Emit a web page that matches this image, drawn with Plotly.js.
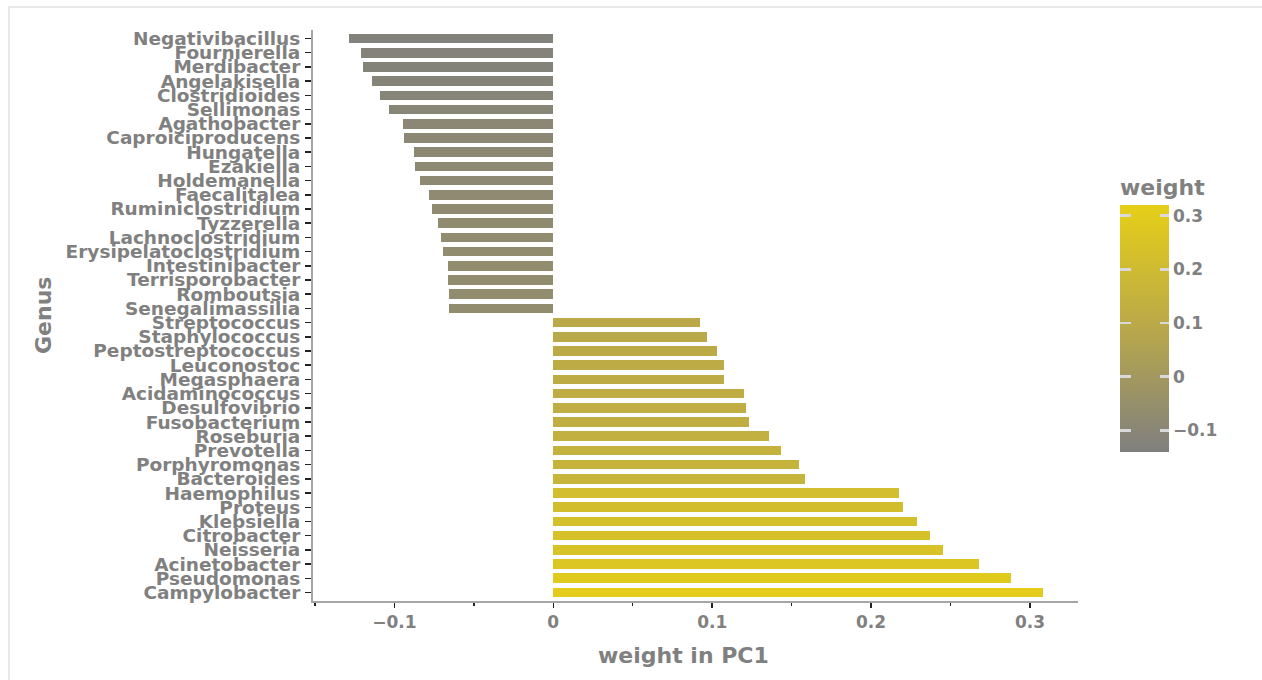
<!DOCTYPE html>
<html>
<head>
<meta charset="utf-8">
<script src="https://cdn.plot.ly/plotly-3.0.1.min.js"></script>
<style>
html, body { margin: 0; padding: 0; background: #ffffff; }
#frame { position: absolute; left: 8px; top: 6px; width: 1300px; height: 700px; border-top: 2px solid #e8e8e8; border-left: 2px solid #e8e8e8; pointer-events: none; }
#chart { position: absolute; left: 0; top: 0; width: 1262px; height: 680px; }
</style>
</head>
<body>
<div id="chart"></div>
<div id="frame"></div>
<script>
// Genus, listed from top of the chart to bottom
const genus = [
  "Negativibacillus", "Fournierella", "Merdibacter", "Angelakisella", "Clostridioides",
  "Sellimonas", "Agathobacter", "Caproiciproducens", "Hungatella", "Ezakiella",
  "Holdemanella", "Faecalitalea", "Ruminiclostridium", "Tyzzerella", "Lachnoclostridium",
  "Erysipelatoclostridium", "Intestinibacter", "Terrisporobacter", "Romboutsia", "Senegalimassilia",
  "Streptococcus", "Staphylococcus", "Peptostreptococcus", "Leuconostoc", "Megasphaera",
  "Acidaminococcus", "Desulfovibrio", "Fusobacterium", "Roseburia", "Prevotella",
  "Porphyromonas", "Bacteroides", "Haemophilus", "Proteus", "Klebsiella",
  "Citrobacter", "Neisseria", "Acinetobacter", "Pseudomonas", "Campylobacter"
];
// weight in PC1
const weight = [
  -0.1288, -0.1210, -0.1200, -0.1141, -0.1093,
  -0.1034, -0.0946, -0.0938, -0.0879, -0.0868,
  -0.0841, -0.0782, -0.0763, -0.0724, -0.0705,
  -0.0696, -0.0665, -0.0665, -0.0656, -0.0656,
  0.0923, 0.0969, 0.1028, 0.1076, 0.1076,
  0.1202, 0.1213, 0.1232, 0.1359, 0.1435,
  0.1549, 0.1587, 0.2178, 0.2199, 0.2288,
  0.2373, 0.2451, 0.2677, 0.2878, 0.3082
];
const xTickVals = [-0.1, 0, 0.1, 0.2, 0.3];
const xTickText = ["\u22120.1", "0", "0.1", "0.2", "0.3"];
const cbTickVals = [-0.1, 0, 0.1, 0.2, 0.3];
const cbTickText = ["\u22120.1", "0", "0.1", "0.2", "0.3"];

const gray = "#808080";
const fam = "DejaVu Sans, Verdana, sans-serif";

// plot area geometry (pixels)
const L = 313, R = 184, T = 30, B = 79;
const W = 1262, H = 680;
const pw = W - L - R, ph = H - T - B;
const px2x = p => (p - L) / pw;
const py2y = p => (H - B - p) / ph;

const cbLeft = 1120, cbRight = 1169, cbTop = 205, cbBottom = 452;
const cbTitleSpace = 30;
const cmin = -0.1405, cmax = 0.3197;
const scale = [[0, "#7f7f7f"], [0.5, "#b9a84a"], [1, "#e6cf17"]];

const trace = {
  type: "bar",
  orientation: "h",
  x: weight,
  y: genus,
  width: 0.68,
  marker: {
    color: weight,
    cmin: cmin,
    cmax: cmax,
    colorscale: scale,
    line: {width: 0},
    showscale: true,
    colorbar: {
      x: px2x(cbLeft), xanchor: "left", xpad: 0,
      y: py2y(cbTop - cbTitleSpace), yanchor: "top", ypad: 0,
      thickness: cbRight - cbLeft, thicknessmode: "pixels",
      len: cbBottom - cbTop + cbTitleSpace, lenmode: "pixels",
      outlinewidth: 0,
      ticks: "inside", ticklen: 9, tickwidth: 2.5, tickcolor: "#d9d9d9",
      tickvals: cbTickVals, ticktext: cbTickText,
      tickfont: {family: fam, size: 17, color: gray, weight: 700},
      title: {text: "weight", side: "top", font: {family: fam, size: 22, color: gray, weight: 700}}
    }
  },
  hoverinfo: "x+y"
};

// invisible helper whose narrow colour bar supplies the left-side tick dashes
const helper = {
  type: "scatter",
  mode: "markers",
  x: weight,
  y: genus,
  hoverinfo: "skip",
  marker: {
    size: 1, opacity: 0,
    color: weight, cmin: cmin, cmax: cmax, colorscale: scale,
    showscale: true,
    colorbar: {
      x: px2x(cbLeft), xanchor: "left", xpad: 0,
      y: py2y(cbTop), yanchor: "top", ypad: 0,
      thickness: 11, thicknessmode: "pixels",
      len: cbBottom - cbTop, lenmode: "pixels",
      outlinewidth: 0,
      ticks: "inside", ticklen: 11, tickwidth: 2.5, tickcolor: "#d9d9d9",
      tickvals: cbTickVals, showticklabels: false,
      title: {text: ""}
    }
  }
};

const layout = {
  width: W, height: H,
  margin: {l: L, r: R, t: T, b: B, pad: 0},
  paper_bgcolor: "#ffffff",
  plot_bgcolor: "#ffffff",
  showlegend: false,
  bargap: 0,
  xaxis: {
    range: [-0.1512, 0.3302],
    tickvals: xTickVals, ticktext: xTickText,
    ticks: "outside", ticklen: 5, tickwidth: 1.5, tickcolor: "#222",
    minor: {dtick: 0.05, tick0: 0, ticks: "outside", ticklen: 3, tickwidth: 1.5, tickcolor: "#222"},
    showgrid: false, zeroline: false,
    showline: true, linecolor: "#a6a6a6", linewidth: 2,
    tickfont: {family: fam, size: 17, color: gray, weight: 700},
    fixedrange: true
  },
  yaxis: {
    type: "category",
    categoryorder: "array", categoryarray: genus,
    range: [39.6, -0.6],
    tickmode: "array", tickvals: genus, ticktext: genus,
    ticks: "outside", ticklen: 6, tickwidth: 1.5, tickcolor: "#222",
    ticklabelstandoff: 1,
    showgrid: false, zeroline: false,
    showline: true, linecolor: "#a6a6a6", linewidth: 2,
    tickfont: {family: fam, size: 18.5, color: gray, weight: 700},
    fixedrange: true
  },
  annotations: [
    {text: "weight in PC1", xref: "paper", yref: "paper",
     x: px2x(683), y: py2y(655), xanchor: "center", yanchor: "middle", showarrow: false,
     font: {family: fam, size: 22, color: gray, weight: 700}},
    {text: "Genus", xref: "paper", yref: "paper", textangle: -90,
     x: px2x(43), y: py2y(316), xanchor: "center", yanchor: "middle", showarrow: false,
     font: {family: fam, size: 22, color: gray, weight: 700}}
  ]
};

Plotly.newPlot("chart", [trace, helper], layout, {displayModeBar: false, staticPlot: true});
</script>
</body>
</html>
